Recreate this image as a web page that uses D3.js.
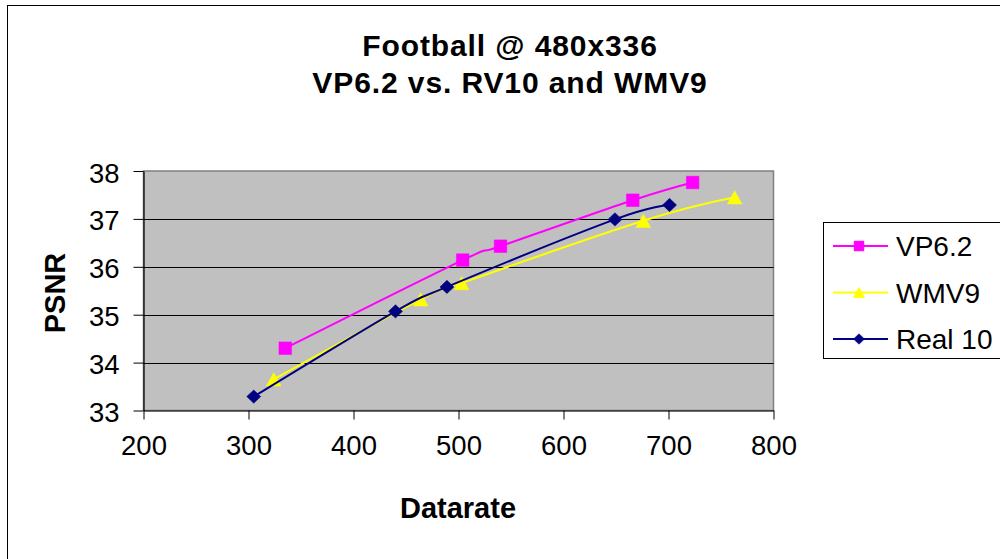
<!DOCTYPE html>
<html><head><meta charset="utf-8">
<script src="https://cdn.jsdelivr.net/npm/d3@7"></script>
<style>
html,body{margin:0;padding:0;background:#fff;}
svg{display:block;font-family:"Liberation Sans",Arial,sans-serif;}
</style></head>
<body>
<svg id="c" width="1000" height="559"></svg>
<script>
const titleLines = ["Football @ 480x336", "VP6.2 vs. RV10 and WMV9"];
const xLabel = "Datarate";
const yLabel = "PSNR";
const xTicks = [200, 300, 400, 500, 600, 700, 800];
const yTicks = [33, 34, 35, 36, 37, 38];
const seriesNames = ["VP6.2", "WMV9", "Real 10"];
const vp62X = [335, 504, 540, 666, 723];
const vp62Y = [34.30, 36.14, 36.43, 37.39, 37.76];
const wmv9X = [324, 464, 503, 676, 763];
const wmv9Y = [33.65, 35.32, 35.66, 36.96, 37.45];
const real10X = [305, 440, 489, 649, 701];
const real10Y = [33.29, 35.07, 35.58, 36.99, 37.29];

const series = [
  {name: seriesNames[0], xs: vp62X, ys: vp62Y, color: "#ff00ff", marker: "square"},
  {name: seriesNames[1], xs: wmv9X, ys: wmv9Y, color: "#ffff00", marker: "triangle"},
  {name: seriesNames[2], xs: real10X, ys: real10Y, color: "#000080", marker: "diamond"}
];

const svg = d3.select("#c");
const L = 143.5, R = 773.5, T = 171, B = 410.5;
const x = d3.scaleLinear().domain([200, 800]).range([L, R]);
const y = d3.scaleLinear().domain([33, 38]).range([B, T]);

// outer chart border
svg.append("rect").attr("x", 7.5).attr("y", 5.5).attr("width", 1100).attr("height", 700)
  .attr("fill", "#fff").attr("stroke", "#000").attr("stroke-width", 1);

// plot area
svg.append("rect").attr("x", L).attr("y", T).attr("width", R - L).attr("height", B - T)
  .attr("fill", "#c0c0c0").attr("stroke", "#808080").attr("stroke-width", 1.5);

// gridlines
svg.append("g").selectAll("line").data(yTicks.filter(d => d !== 33 && d !== 38)).join("line")
  .attr("x1", L).attr("x2", R).attr("y1", d => Math.round(y(d)) + 0.5).attr("y2", d => Math.round(y(d)) + 0.5)
  .attr("stroke", "#000").attr("stroke-width", 1);

// axes
const yAxis = svg.append("g").attr("transform", `translate(${L},0)`)
  .call(d3.axisLeft(y).tickValues(yTicks).tickFormat(d3.format("d")).tickSize(10).tickSizeOuter(0).tickPadding(14));
const xAxis = svg.append("g").attr("transform", `translate(0,${B})`)
  .call(d3.axisBottom(x).tickValues(xTicks).tickFormat(d3.format("d")).tickSize(9).tickSizeOuter(0).tickPadding(16));
[yAxis, xAxis].forEach(g => {
  g.select(".domain").attr("stroke", "#000").attr("stroke-width", 1.2);
  g.selectAll(".tick line").attr("stroke", "#000").attr("stroke-width", 1);
  g.selectAll("text").attr("font-size", 27.5).attr("fill", "#000")
    .attr("font-family", "'Liberation Sans', Arial, sans-serif");
});
yAxis.selectAll("text").attr("dy", "0.40em");
xAxis.selectAll("text").attr("dy", "0.71em");

// titles
const title = svg.append("text").attr("text-anchor", "middle").attr("font-weight", "bold")
  .attr("font-size", 30).attr("letter-spacing", 0.9);
titleLines.forEach((t, i) => title.append("tspan").attr("x", 510).attr("y", 56 + i * 37).text(t));

svg.append("text").attr("x", 458).attr("y", 518).attr("text-anchor", "middle")
  .attr("font-weight", "bold").attr("font-size", 29).text(xLabel);
svg.append("text").attr("transform", "translate(65,293) rotate(-90)").attr("text-anchor", "middle")
  .attr("font-weight", "bold").attr("font-size", 29).text(yLabel);

function markerPath(type, s) {
  if (type === "square") return `M${-s*0.9},${-s*0.9}h${1.8*s}v${1.8*s}h${-1.8*s}Z`;
  if (type === "diamond") return `M0,${-s*0.95}L${s*1.0},0L0,${s*0.95}L${-s*1.0},0Z`;
  return `M0,${-s*0.95}L${s*1.05},${s*0.95}L${-s*1.05},${s*0.95}Z`;
}

const line = d3.line().x(d => x(d[0])).y(d => y(d[1])).curve(d3.curveCardinal.tension(0));

series.forEach(s => {
  const pts = s.xs.map((v, i) => [v, s.ys[i]]);
  const g = svg.append("g");
  g.append("path").attr("d", line(pts)).attr("fill", "none").attr("stroke", s.color).attr("stroke-width", 2);
  g.selectAll("path.m").data(pts).join("path").attr("class", "m")
    .attr("transform", d => `translate(${x(d[0])},${y(d[1])})`)
    .attr("d", markerPath(s.marker, 7)).attr("fill", s.color).attr("stroke", s.color).attr("stroke-width", 0.5);
});

// legend
const lg = svg.append("g");
lg.append("rect").attr("x", 823.5).attr("y", 222.5).attr("width", 300).attr("height", 136)
  .attr("fill", "#fff").attr("stroke", "#000").attr("stroke-width", 1);
series.forEach((s, i) => {
  const cy = 246 + i * 46.5;
  lg.append("line").attr("x1", 833).attr("x2", 888).attr("y1", cy).attr("y2", cy)
    .attr("stroke", s.color).attr("stroke-width", 2);
  lg.append("path").attr("transform", `translate(859,${cy})`).attr("d", markerPath(s.marker, 5.5))
    .attr("fill", s.color).attr("stroke", s.color).attr("stroke-width", 0.5);
  lg.append("text").attr("x", 896).attr("y", cy + 10).attr("font-size", 28).text(s.name);
});
</script>
</body></html>
